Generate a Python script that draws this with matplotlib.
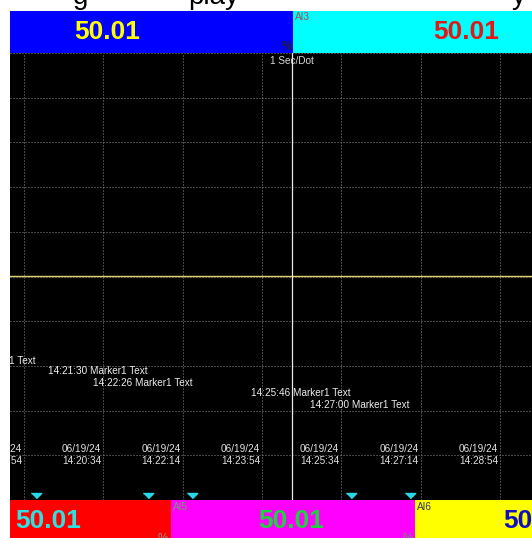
import matplotlib
matplotlib.use("Agg")
import matplotlib.pyplot as plt
import matplotlib.transforms as mtransforms
from matplotlib.patches import Rectangle

W, H = 532, 538

def hms(s):
    h, m, sec = s.split(":")
    return int(h)*3600 + int(m)*60 + int(sec)

# data
grid_times = ["14:18:54", "14:20:34", "14:22:14", "14:23:54", "14:25:34", "14:27:14", "14:28:54"]
grid_date = "06/19/24"
marker_times = ["14:19:09", "14:21:30", "14:22:26", "14:25:46", "14:27:00"]
marker_text = "Marker1 Text"
trend_times = ["14:18:30", "14:21:00", "14:24:00", "14:27:00", "14:29:40"]
trend_values = [50.01, 50.01, 50.01, 50.01, 50.01]
cursor_time = 51534 + 337.5   # between samples
channels_top = [("", "50.01", "blue", "yellow"), ("AI3", "50.01", "cyan", "#e01818")]
channels_bottom = [("", "50.01", "red", "#30e0e0"), ("AI5", "50.01", "magenta", "#20d040"), ("AI6", "50.01", "yellow", "#1010c0")]

t0 = hms(grid_times[0])
pps = (500 - 24) / 600.0   # pixels per second

fig = plt.figure(figsize=(W/100, H/100), dpi=100)
fig.patch.set_facecolor("white")

def fx(px):
    return px / W

def fy(py):
    return 1 - py / H

ax = fig.add_axes([fx(10), fy(500), (W - 10)/W, 447/H])
ax.set_facecolor("black")
ax.set_xlim(t0 - 14/pps, t0 + (W - 24)/pps)
ax.set_ylim(0, 100)
for s in ax.spines.values():
    s.set_visible(False)
ax.set_xticks([hms(t) for t in grid_times])
ax.set_yticks(range(0, 101, 10))
ax.tick_params(length=0, labelbottom=False, labelleft=False)
ax.grid(True, color="#8a8a8a", linestyle=(0, (1, 2)), linewidth=0.72)

def ydat(py):
    return (500 - py) / 447.0 * 100

ax.plot([hms(t) for t in trend_times], trend_values, color="#e2d36a", lw=1.0, zorder=3)
ax.axvline(cursor_time, color="#e8e8e8", lw=0.9, zorder=4)
ax.text(cursor_time, ydat(60.5), "1 Sec/Dot", color="#d8d8d8", fontsize=7.2,
        family="Liberation Sans", ha="center", va="center")

for t in grid_times:
    x = hms(t) - 2.5
    ax.text(x, ydat(449.5), grid_date, color="#e0e0e0", fontsize=7.2, family="Liberation Sans",
            ha="right", va="center", clip_on=True)
    ax.text(x, ydat(461), t, color="#e0e0e0", fontsize=7.2, family="Liberation Sans",
            ha="right", va="center", clip_on=True)

blend = mtransforms.blended_transform_factory(ax.transData, ax.transAxes)
ax.plot([hms(t) for t in marker_times], [(500 - 493)/447.0]*len(marker_times),
        linestyle="none", marker=[(-1, 0), (1, 0), (0, -1)], markersize=7.5,
        color="#28d8e8", transform=blend, clip_on=False, zorder=5)
for i, t in enumerate(marker_times):
    ax.text(hms(t), ydat(360.5 + 11*i), t + " " + marker_text, color="#ececec", fontsize=7.2,
            family="Liberation Sans", ha="right", va="center", clip_on=True)

# channel panels
def panel(x0, x1, y0, y1, color):
    fig.add_artist(Rectangle((fx(x0), fy(y1)), (x1 - x0)/W, (y1 - y0)/H,
                             transform=fig.transFigure, facecolor=color, edgecolor="none", zorder=0))

big = dict(fontsize=19, fontweight="bold", family="Liberation Sans", va="center")
small = dict(fontsize=7.2, family="Liberation Sans")

panel(10, 293, 11, 53, channels_top[0][2])
panel(293, W, 11, 53, channels_top[1][2])
fig.text(fx(107.5), fy(32.5), channels_top[0][1], color=channels_top[0][3], ha="center", **big)
fig.text(fx(466.5), fy(32.5), channels_top[1][1], color=channels_top[1][3], ha="center", **big)
fig.text(fx(292), fy(52.5), "%", color="#202030", ha="right", va="bottom", fontsize=8.5,
         fontweight="bold", family="Liberation Sans")
fig.text(fx(294.5), fy(11.5), channels_top[1][0], color="#b04848", ha="left", va="top", **small)

panel(10, 171, 500, H, channels_bottom[0][2])
panel(171, 415, 500, H, channels_bottom[1][2])
panel(415, W, 500, H, channels_bottom[2][2])
fig.text(fx(48), fy(521), channels_bottom[0][1], color=channels_bottom[0][3], ha="center", **big)
fig.text(fx(291.5), fy(521), channels_bottom[1][1], color=channels_bottom[1][3], ha="center", **big)
fig.text(fx(503), fy(521), channels_bottom[2][1], color=channels_bottom[2][3], ha="left", **big)
fig.text(fx(173), fy(501.5), channels_bottom[1][0], color="#70a070", ha="left", va="top", **small)
fig.text(fx(417), fy(501.5), channels_bottom[2][0], color="#303070", ha="left", va="top", **small)
fig.text(fx(168), fy(533), "%", color="#909090", ha="right", va="top", fontsize=8.5, family="Liberation Sans")
fig.text(fx(413), fy(533), "%", color="#60a060", ha="right", va="top", fontsize=8.5, family="Liberation Sans")

# title line above, only its lower edge is in view
for txt, px in [("g", 73), ("play", 188), ("y", 512)]:
    fig.text(fx(px), fy(4), txt, color="black", ha="left", va="baseline", fontsize=20, family="Liberation Sans")

fig.savefig("out.png", dpi=100)
